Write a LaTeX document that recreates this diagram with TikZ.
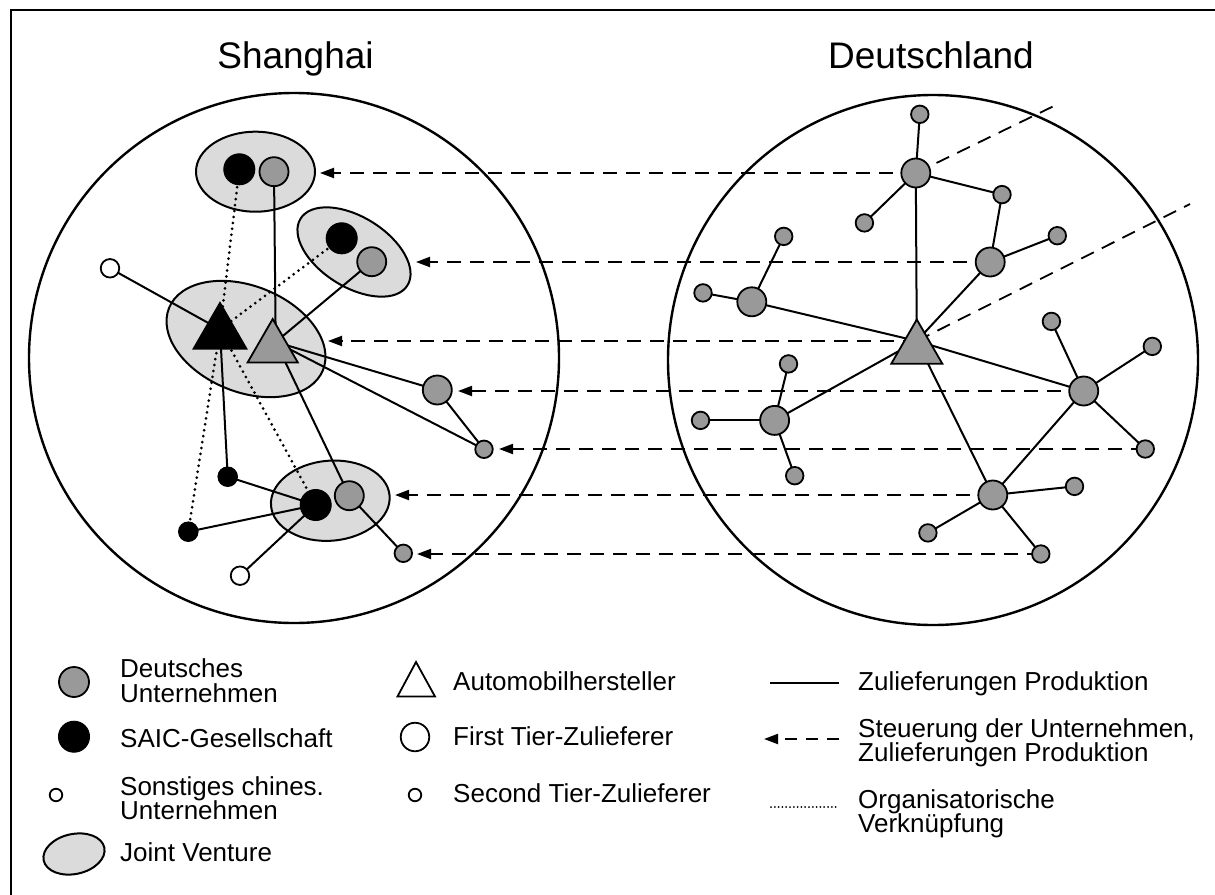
\documentclass[tikz,border=0pt]{standalone}
\usepackage{fontspec}
\setmainfont{Liberation Sans}
\usetikzlibrary{shapes.geometric,arrows.meta,calc}
\pgfdeclarelayer{back}
\pgfdeclarelayer{mid}
\pgfsetlayers{back,mid,main}
\definecolor{dgray}{gray}{0.6}
\definecolor{lgray}{gray}{0.86}
\begin{document}
\begin{tikzpicture}[x=1pt,y=-1pt,
  de/.style={circle,draw,line width=1.8pt,fill=dgray,inner sep=0pt,minimum size=29pt},
  desm/.style={de,minimum size=17.5pt},
  saic/.style={circle,draw,line width=1pt,fill=black,inner sep=0pt,minimum size=31pt},
  saicsm/.style={saic,minimum size=19.5pt},
  oth/.style={circle,draw,line width=1.8pt,fill=white,inner sep=0pt,minimum size=18.5pt},
  jv/.style={ellipse,draw,line width=2pt,fill=lgray,inner sep=0pt},
  tri/.style={regular polygon,regular polygon sides=3,draw,line width=1.8pt,inner sep=0pt},
  region/.style={circle,draw,line width=2.4pt,inner sep=0pt,minimum size=530pt},
  prod/.style={line width=2pt},
  org/.style={line width=3pt,line cap=round,dash pattern=on 0pt off 6pt},
  ctrl/.style={line width=2pt,dash pattern=on 14pt off 9pt,-{Triangle[length=14pt,width=10pt]}},
  diag/.style={line width=1.8pt,dash pattern=on 14pt off 9pt},
  lab/.style={font=\fontsize{26}{25}\selectfont,anchor=base west,inner sep=0pt},
  ttl/.style={font=\fontsize{37}{44}\selectfont,anchor=base,inner sep=0pt}]
\useasboundingbox (0,0) rectangle (1215,894);
% frame
\draw[line width=2.4pt] (11,900) -- (11,10) -- (1225,10);
% titles
\node[ttl] (tS) at (295.5,68) {Shanghai};
\node[ttl] (tD) at (931,68) {Deutschland};

% ---------- Shanghai nodes ----------
\node[saic] (s1) at (239.3,169.3) {};
\node[de] (d1) at (274,171.7) {};
\node[saic] (s2) at (341.7,238.3) {};
\node[de] (d2) at (371.7,261.7) {};
\node[tri,fill=black,minimum size=61pt] (bT) at (220,333.5) {};
\node[tri,fill=dgray,minimum size=58pt] (gT) at (272.7,348) {};
\node[oth] (o1) at (110,268.3) {};
\node[de] (d3) at (437.3,390) {};
\node[desm] (d4) at (484,449.3) {};
\node[saicsm] (s3) at (227.7,476.7) {};
\node[saic] (s4) at (315.7,505) {};
\node[de] (d5) at (349.3,495.7) {};
\node[saicsm] (s5) at (188.3,531.7) {};
\node[oth] (o2) at (240,575.7) {};
\node[desm] (d6) at (403.3,553.3) {};
\coordinate (bTc) at ($(bT.center)+(0,-4)$);
\coordinate (gTc) at ($(gT.center)+(3,-6)$);

% ---------- Deutschland nodes ----------
\node[tri,fill=dgray,minimum size=59pt] (rT) at (916.8,349) {};
\coordinate (rTc) at ($(rT.center)+(0,-8)$);
\node[de] (A) at (915.8,173) {};
\node[desm] (B) at (919.8,114.3) {};
\node[desm] (C) at (864.4,222.9) {};
\node[desm] (D) at (1002,194.6) {};
\node[de] (E) at (990.2,262) {};
\node[desm] (F) at (1057.3,235.7) {};
\node[de] (G) at (751.8,301.8) {};
\node[desm] (H) at (783.7,236.4) {};
\node[desm] (I) at (703,292.9) {};
\node[de] (J) at (774.6,420.4) {};
\node[desm] (K) at (788.5,363.9) {};
\node[desm] (L) at (700.5,420.4) {};
\node[desm] (M) at (794.7,475.7) {};
\node[de] (N) at (1083.7,391) {};
\node[desm] (O) at (1051.4,321.4) {};
\node[desm] (P) at (1152.3,346.4) {};
\node[desm] (Q) at (1145.3,449) {};
\node[de] (R) at (992.8,495) {};
\node[desm] (S) at (1074.5,486.4) {};
\node[desm] (Tt) at (927.9,532.9) {};
\node[desm] (U) at (1040.8,554) {};

% arrow tips and free ends
\coordinate (t1) at (320,173);
\coordinate (t2) at (416,262);
\coordinate (t3) at (328,341);
\coordinate (t4) at (458,391);
\coordinate (t5) at (499,449);
\coordinate (t6) at (395,495);
\coordinate (t7) at (417,554);
\coordinate (e1) at (1058,104);
\coordinate (e2) at (1190,204);

\begin{pgfonlayer}{back}
\node[region] (SH) at (294,358) {};
\node[region] (DE) at (933,360) {};
\node[jv,minimum width=119pt,minimum height=80pt] (jv1) at (255.5,171.7) {};
\node[jv,minimum width=126pt,minimum height=70pt,rotate=-32] (jv2) at (354,252) {};
\node[jv,minimum width=166pt,minimum height=106pt,rotate=-22] (jv3) at (246,339) {};
\node[jv,minimum width=119pt,minimum height=80pt,rotate=5] (jv4) at (330.3,500.7) {};
\end{pgfonlayer}

\begin{pgfonlayer}{mid}
% Shanghai: production links
\draw[prod] (o1.center) -- (bTc);
\draw[prod] (d1.center) -- (gTc);
\draw[prod] (d2.center) -- (gTc);
\draw[prod] (gTc) -- (d3.center);
\draw[prod] (gTc) -- (d4.center);
\draw[prod] (d3.center) -- (d4.center);
\draw[prod] (gTc) -- (d5.center);
\draw[prod] (bTc) -- (s3.center);
\draw[prod] (s3.center) -- (s4.center);
\draw[prod] (s5.center) -- (s4.center);
\draw[prod] (o2.center) -- (s4.center);
\draw[prod] (d5.center) -- (d6.center);
% Shanghai: organisational links
\draw[org] (s1.center) -- (bTc);
\draw[org] (s2.center) -- (bTc);
\draw[org] (bTc) -- (s5.center);
\draw[org] (bTc) -- (s4.center);
% Deutschland: production links
\draw[prod] (rTc) -- (A.center);
\draw[prod] (A.center) -- (B.center);
\draw[prod] (A.center) -- (C.center);
\draw[prod] (A.center) -- (D.center);
\draw[prod] (D.center) -- (E.center);
\draw[prod] (E.center) -- (F.center);
\draw[prod] (E.center) -- (rTc);
\draw[prod] (G.center) -- (rTc);
\draw[prod] (G.center) -- (H.center);
\draw[prod] (G.center) -- (I.center);
\draw[prod] (J.center) -- (rTc);
\draw[prod] (J.center) -- (K.center);
\draw[prod] (J.center) -- (L.center);
\draw[prod] (J.center) -- (M.center);
\draw[prod] (N.center) -- (rTc);
\draw[prod] (N.center) -- (O.center);
\draw[prod] (N.center) -- (P.center);
\draw[prod] (N.center) -- (Q.center);
\draw[prod] (N.center) -- (R.center);
\draw[prod] (R.center) -- (rTc);
\draw[prod] (R.center) -- (S.center);
\draw[prod] (R.center) -- (Tt.center);
\draw[prod] (R.center) -- (U.center);
% outgoing dashed lines
\draw[diag] (A.center) -- (e1);
\draw[diag] (rTc) -- (e2);
% control arrows
\draw[ctrl] (A.center) -- (t1);
\draw[ctrl] (E.center) -- (t2);
\draw[ctrl] (rTc) -- (t3);
\draw[ctrl] (N.center) -- (t4);
\draw[ctrl] (Q.center) -- (t5);
\draw[ctrl] (R.center) -- (t6);
\draw[ctrl] (U.center) -- (t7);
\end{pgfonlayer}

% ---------- Legend ----------
\node[de,minimum size=30pt] (lg1) at (74,682) {};
\node[lab] (lt1a) at (120,677) {Deutsches};
\node[lab] (lt1b) at (120,702) {Unternehmen};
\node[saic] (lg2) at (74,736.7) {};
\node[lab] (lt2) at (120,747) {SAIC-Gesellschaft};
\node[oth,minimum size=12.5pt] (lg3) at (56,795) {};
\node[lab] (lt3a) at (120,795) {Sonstiges chines.};
\node[lab] (lt3b) at (120,819) {Unternehmen};
\node[jv,minimum width=62pt,minimum height=40pt,rotate=12] (lg4) at (74,854) {};
\node[lab] (lt4) at (120,861) {Joint Venture};

\draw[line width=1.8pt,line join=miter] (416,662) -- (397.5,696.5) -- (435,696.5) -- cycle;
\node[lab] (lt5) at (453,690) {Automobilhersteller};
\node[oth,minimum size=28.5pt] (lg6) at (415,737) {};
\node[lab] (lt6) at (453,745) {First Tier-Zulieferer};
\node[oth,minimum size=12.5pt] (lg7) at (415,795) {};
\node[lab] (lt7) at (453,802) {Second Tier-Zulieferer};

\coordinate (la1) at (770,683);
\coordinate (lb1) at (839.3,683);
\draw[prod] (la1) -- (lb1);
\node[lab] (lt8) at (858,690) {Zulieferungen Produktion};
\coordinate (la2) at (839.3,739);
\coordinate (lb2) at (764,739);
\draw[line width=2pt,dash pattern=on 12pt off 9pt,-{Triangle[length=14pt,width=10pt]}] (la2) -- (lb2);
\node[lab] (lt9a) at (858,737) {Steuerung der Unternehmen,};
\node[lab] (lt9b) at (858,761) {Zulieferungen Produktion};
\coordinate (la3) at (771,807);
\coordinate (lb3) at (839,807);
\draw[line width=2pt,line cap=round,dash pattern=on 0pt off 3.8pt] (la3) -- (lb3);
\node[lab] (lt10a) at (858,808) {Organisatorische};
\node[lab] (lt10b) at (858,832) {Verknüpfung};
\end{tikzpicture}
\end{document}
